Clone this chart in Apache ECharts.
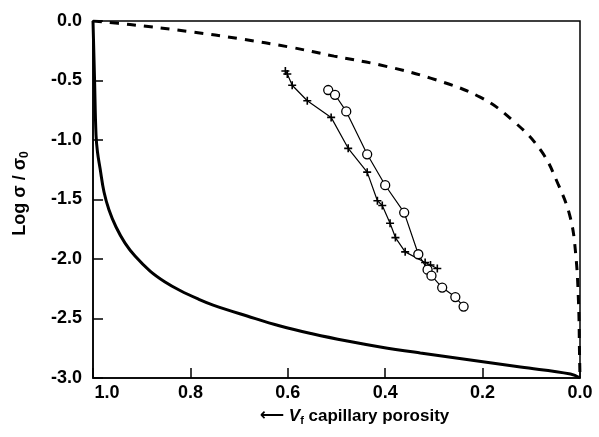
<!DOCTYPE html>
<html><head><meta charset="utf-8">
<script src="https://cdn.jsdelivr.net/npm/echarts@6/dist/echarts.min.js"></script>
<style>html,body{margin:0;padding:0;background:#fff}#c{width:599px;height:437px}</style>
</head><body><div id="c"></div>
<script>
// x = capillary porosity V_f, y = log(sigma/sigma0)
const xTickValues = [1.0, 0.8, 0.6, 0.4, 0.2, 0.0];
const yTickValues = [0.0, -0.5, -1.0, -1.5, -2.0, -2.5, -3.0];

const solidCurve = [
  [1.0, 0.0], [0.9969, -0.479], [0.9938, -0.958], [0.9908, -1.101], [0.9856, -1.235],
  [0.9774, -1.437], [0.9671, -1.588], [0.9527, -1.731], [0.9342, -1.866], [0.9137, -1.975],
  [0.8828, -2.101], [0.8520, -2.193], [0.8212, -2.265], [0.7842, -2.336], [0.7533, -2.387],
  [0.6835, -2.479], [0.6156, -2.563], [0.5478, -2.630], [0.4779, -2.689], [0.4101, -2.739],
  [0.3279, -2.790], [0.2251, -2.849], [0.1223, -2.908], [0.0195, -2.966], [0.0, -3.0]
];

const dashedCurve = [
  [1.0, 0.0], [0.924, -0.03], [0.80, -0.09], [0.698, -0.15], [0.595, -0.22],
  [0.505, -0.295], [0.41, -0.37], [0.307, -0.48], [0.205, -0.64], [0.137, -0.84],
  [0.080, -1.09], [0.044, -1.38], [0.02, -1.65], [0.009, -1.95], [0.003, -2.37],
  [0.001, -2.79], [0.0, -3.0]
];

const crossSeries = [
  [0.605, -0.42], [0.601, -0.445], [0.591, -0.54], [0.560, -0.67], [0.511, -0.81],
  [0.476, -1.07], [0.437, -1.27], [0.416, -1.51], [0.406, -1.55], [0.390, -1.70],
  [0.379, -1.82], [0.359, -1.94], [0.318, -2.03], [0.307, -2.05], [0.293, -2.08]
];

const circleSeries = [
  [0.517, -0.58], [0.503, -0.62], [0.480, -0.76], [0.437, -1.12], [0.400, -1.38],
  [0.361, -1.61], [0.332, -1.96], [0.313, -2.09], [0.305, -2.14], [0.283, -2.24],
  [0.256, -2.32], [0.239, -2.40]
];

const fontFam = 'Liberation Sans, Arial, sans-serif';
const W = 'bold';
const chart = echarts.init(document.getElementById('c'));
chart.setOption({
  animation: false,
  backgroundColor: '#fff',
  grid: { left: 93, right: 19, top: 21, bottom: 59, show: true, borderColor: '#000', borderWidth: 1.5 },
  xAxis: {
    type: 'value', min: 0, max: 1, interval: 0.2, inverse: true,
    axisLine: { onZero: false, lineStyle: { color: '#000', width: 1.5 } },
    axisTick: { inside: true, length: 10, lineStyle: { color: '#000', width: 1.5 } },
    splitLine: { show: false },
    axisLabel: {
      margin: 6, color: '#000', fontSize: 18, fontWeight: W, fontFamily: fontFam,
      formatter: v => (Math.abs(v - 1) < 1e-9 ? '{sh|1.0}' : v.toFixed(1)),
      rich: { sh: { padding: [0, 0, 0, 28], fontSize: 18, fontWeight: W, color: '#000', fontFamily: fontFam } }
    },
    name: '{ar|⟵} {it|V}{sub|f} capillary porosity',
    nameLocation: 'middle', nameGap: 28,
    nameTextStyle: {
      color: '#000', fontSize: 17, fontWeight: W, fontFamily: fontFam, padding: [0, 0, 0, 36],
      rich: {
        ar: { fontSize: 17, color: '#000', fontFamily: 'DejaVu Sans' },
        it: { fontStyle: 'italic', fontSize: 17, fontWeight: W, color: '#000', fontFamily: fontFam },
        sub: { fontSize: 11, fontWeight: W, color: '#000', fontFamily: fontFam, padding: [9, 0, 0, 0] }
      }
    }
  },
  yAxis: {
    type: 'value', min: -3, max: 0, interval: 0.5,
    axisLine: { onZero: false, lineStyle: { color: '#000', width: 1.5 } },
    axisTick: { inside: true, length: 10, lineStyle: { color: '#000', width: 1.5 } },
    splitLine: { show: false },
    axisLabel: { margin: 11, color: '#000', fontSize: 18, fontWeight: W, fontFamily: fontFam, formatter: v => v.toFixed(1) },
    name: 'Log σ / σ{sub|0}',
    nameLocation: 'middle', nameGap: 62,
    nameTextStyle: {
      color: '#000', fontSize: 18, fontWeight: W, fontFamily: fontFam, padding: [0, 0, 0, 12],
      rich: { sub: { fontSize: 12, fontWeight: W, color: '#000', fontFamily: fontFam, padding: [10, 0, 0, 0] } }
    }
  },
  series: [
    { type: 'line', data: solidCurve, showSymbol: false, smooth: 0.4,
      lineStyle: { color: '#000', width: 3 } },
    { type: 'line', data: dashedCurve, showSymbol: false, smooth: 0.4,
      lineStyle: { color: '#000', width: 3, type: [9, 8] } },
    { type: 'line', data: crossSeries, symbol: 'path://M4,0h2v4h4v2h-4v4h-2v-4h-4v-2h4z', symbolSize: 8,
      itemStyle: { color: '#000' }, lineStyle: { color: '#000', width: 1.2 } },
    { type: 'line', data: circleSeries, symbol: 'circle', symbolSize: 9,
      itemStyle: { color: '#fff', borderColor: '#000', borderWidth: 1.3 }, lineStyle: { color: '#000', width: 1.2 } }
  ]
});
</script>
</body></html>
